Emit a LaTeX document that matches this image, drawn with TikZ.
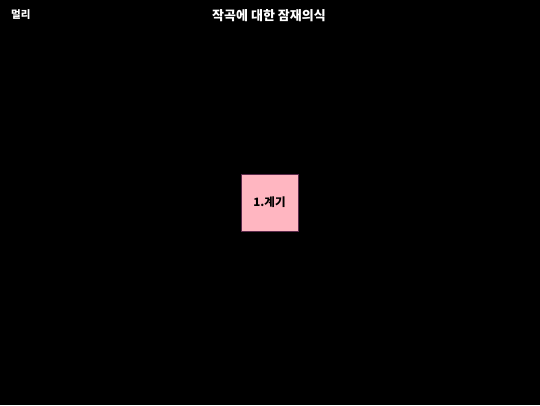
\documentclass[tikz,border=0pt]{standalone}
\usepackage{fontspec}
\newfontfamily\kor{Noto Sans CJK KR}
\usetikzlibrary{positioning}
\definecolor{boxpink}{HTML}{FFB6C1}
\definecolor{boxline}{HTML}{5A2A4A}

\begin{document}
\begin{tikzpicture}[
x=1pt,
y=-1pt,
heading/.style={
	text=white,
	font=\kor\bfseries\fontsize{10.5}{12}\selectfont,
	inner sep=0pt
},
stagebox/.style={
	draw=boxline,
	fill=boxpink,
	minimum width=57pt,
	minimum height=57pt,
	inner sep=0pt,
	font=\kor\bfseries\fontsize{11.5}{13}\selectfont
}
]
\fill[black] (0,0) rectangle (540,405);
\useasboundingbox (0,0) rectangle (540,405);

\node[heading,anchor=west] (far) at (11,14.5) {멀리};
\node[heading,font=\kor\bfseries\fontsize{13}{15}\selectfont] (title) at (269,15.5) {작곡에 대한 잠재의식};

\node[stagebox] (cause) at (269.5,202.5) {1.계기};
\end{tikzpicture}
\end{document}
